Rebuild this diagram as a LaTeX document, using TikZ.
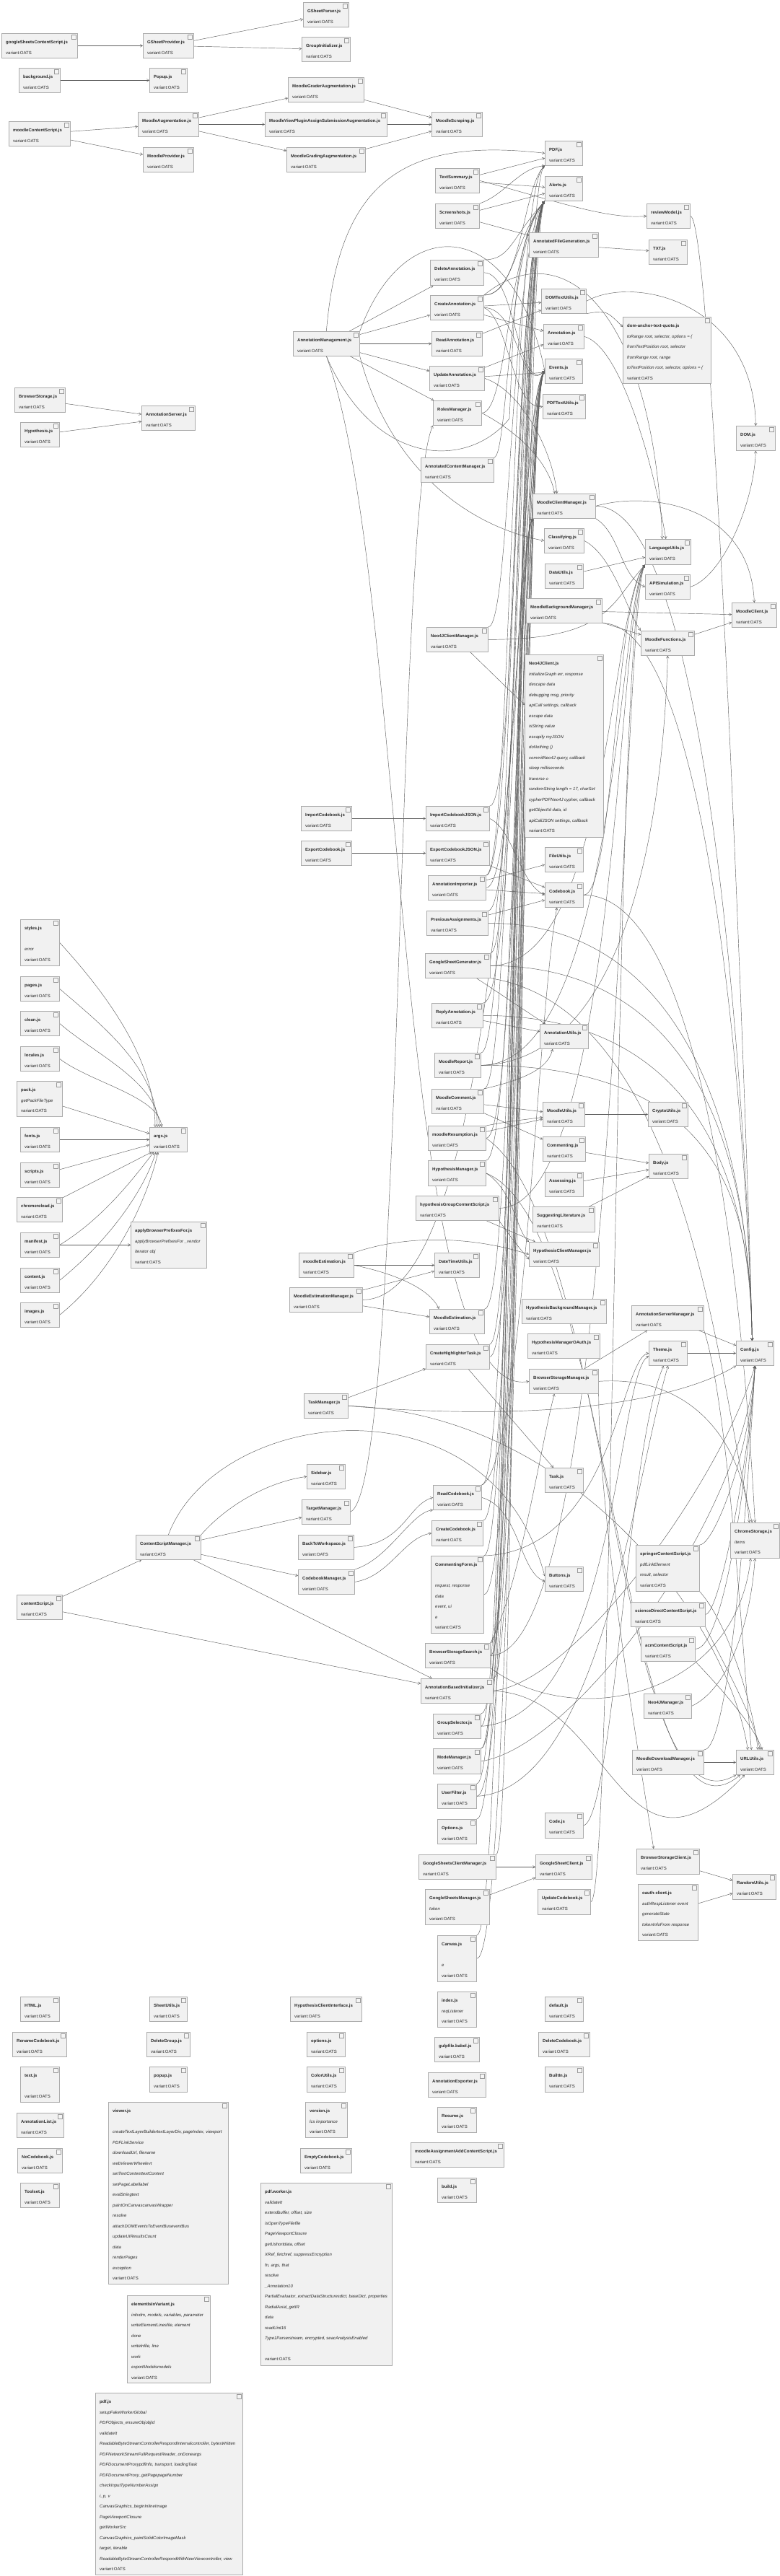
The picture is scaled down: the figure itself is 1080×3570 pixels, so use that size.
\documentclass[tikz,border=0pt]{standalone}
\usepackage{fontspec}
\setmainfont{Liberation Sans}
\usetikzlibrary{arrows.meta,backgrounds}
\definecolor{boxfill}{HTML}{F1F1F1}
\definecolor{boxline}{HTML}{ABABAB}
\definecolor{edgec}{HTML}{5E5E5E}
\definecolor{txtc}{HTML}{2A2A2A}
\tikzset{
  cbox/.style={anchor=north west,draw=boxline,fill=boxfill,line width=0.7pt,inner sep=0pt},
  ctext/.style={anchor=north west,inner sep=0pt,align=left,text=txtc,font=\fontsize{6}{14.5}\selectfont},
  cicon/.style={draw=gray!80,fill=white!96!black,line width=0.4pt},
  e/.style={draw=edgec,line width=0.45pt,-{Straight Barb[length=3.2pt,width=3.8pt]}}
}
\newcommand\V{variant:OATS}
\newcommand\T[1]{\rule{0pt}{4.7pt}\textbf{#1}}
\newcommand\I[1]{\textit{#1}}
\newcommand\cb[6]{%
  \node[cbox,minimum width=#4pt,minimum height=#5pt] (#1) at (#2,#3) {};
  \node[ctext] (#1-t) at ([xshift=6pt,yshift=-10pt]#1.north west) {#6};
  \draw[cicon] ([xshift=-8.5pt,yshift=-2.5pt]#1.north east) rectangle ++(6pt,-6pt);
}
\newcommand\toAl[2]{\draw[e] (#1) .. controls (#1 -| #2) and (#2 |- alc) .. (alerts.south west);}
\newcommand\toEv[2]{\draw[e] (#1) .. controls (#1 -| #2) and (#2 |- evc) .. (events.west);}
\newcommand\toPd[2]{\draw[e] (#1) .. controls (#1 -| #2) and (#2 |- pdc) .. (pdfU.south west);}
\newcommand\toMc[2]{\draw[e] (#1) .. controls (#1 -| #2) and (#2 |- mcc) .. (mcm.south west);}
\newcommand\toLg[2]{\draw[e] (#1) .. controls (#1 -| #2) and (#2 |- lgc) .. (langu.south west);}
\newcommand\toCn[2]{\draw[e] (#1) .. controls (#1 -| #2) and (cnc) .. ([xshift=-4pt]config.north);}
\newcommand\toCs[2]{\draw[e] (#1) .. controls (#1 -| #2) and (csc) .. (config.south);}
\begin{document}
\begin{tikzpicture}[x=1pt,y=-1pt]
\useasboundingbox (0,0) rectangle (1080,3570);
% corridor coordinates
\coordinate (k1) at (704,0); \coordinate (k2) at (708,0); \coordinate (k3) at (712,0);
\coordinate (k4) at (716,0); \coordinate (k5) at (720,0); \coordinate (k6) at (724,0);
\coordinate (j1) at (846,0); \coordinate (j2) at (851,0); \coordinate (j3) at (856,0); \coordinate (j4) at (861,0);
\coordinate (r1) at (990,0); \coordinate (r2) at (998,0); \coordinate (r3) at (1006,0); \coordinate (r4) at (1014,0); \coordinate (r5) at (1022,0);
\coordinate (alc) at (0,330); \coordinate (evc) at (0,548); \coordinate (pdc) at (0,258);
\coordinate (mcc) at (0,765); \coordinate (lgc) at (0,835);
\coordinate (cnc) at (1040,1700); \coordinate (csc) at (1040,2010);
% ---------------- nodes
\cb{gscs}{2}{46}{105}{34}{\T{googleSheetsContentScript.js}\\\V}
\cb{gsp}{198}{46}{70}{34}{\T{GSheetProvider.js}\\\V}
\cb{gspar}{420}{3}{63}{34}{\T{GSheetParser.js}\\\V}
\cb{ginit}{418}{51}{67}{34}{\T{GroupInitializer.js}\\\V}
\cb{bg}{26}{94}{57}{34}{\T{background.js}\\\V}
\cb{popupU}{207}{94}{52}{34}{\T{Popup.js}\\\V}
\cb{mgrader}{399}{107}{105}{34}{\T{MoodleGraderAugmentation.js}\\\V}
\cb{mcs}{12}{168}{85}{34}{\T{moodleContentScript.js}\\\V}
\cb{maug}{191}{155}{84}{34}{\T{MoodleAugmentation.js}\\\V}
\cb{mview}{367}{155}{169}{34}{\T{MoodleViewPluginAssignSubmissionAugmentation.js}\\\V}
\cb{mscrap}{598}{155}{70}{34}{\T{MoodleScraping.js}\\\V}
\cb{mprov}{198}{204}{70}{34}{\T{MoodleProvider.js}\\\V}
\cb{mgrading}{397}{204}{109}{34}{\T{MoodleGradingAugmentation.js}\\\V}
\cb{pdfU}{755}{195}{52}{34}{\T{PDF.js}\\\V}
\cb{tsum}{603}{233}{61}{34}{\T{TextSummary.js}\\\V}
\cb{alerts}{755}{244}{52}{34}{\T{Alerts.js}\\\V}
\cb{shots}{603}{282}{61}{34}{\T{Screenshots.js}\\\V}
\cb{review}{896}{282}{60}{34}{\T{reviewModel.js}\\\V}
\cb{afg}{733}{322}{96}{34}{\T{AnnotatedFileGeneration.js}\\\V}
\cb{txt}{899}{332}{53}{34}{\T{TXT.js}\\\V}
\cb{delA}{596}{360}{74}{35}{\T{DeleteAnnotation.js}\\\V}
\cb{creA}{596}{409}{74}{34}{\T{CreateAnnotation.js}\\\V}
\cb{domtu}{750}{400}{62}{34}{\T{DOMTextUtils.js}\\\V}
\cb{dat}{863}{439}{122}{92}{\T{dom-anchor-text-quote.js}\\\I{toRange root, selector, options = \{}\\\I{fromTextPosition root, selector}\\\I{fromRange root, range}\\\I{toTextPosition root, selector, options = \{}\\\V}
\cb{amgmt}{406}{459}{92}{34}{\T{AnnotationManagement.js}\\\V}
\cb{readA}{598}{459}{70}{34}{\T{ReadAnnotation.js}\\\V}
\cb{annot}{753}{449}{56}{34}{\T{Annotation.js}\\\V}
\cb{updA}{595}{507}{76}{34}{\T{UpdateAnnotation.js}\\\V}
\cb{events}{755}{497}{52}{34}{\T{Events.js}\\\V}
\cb{pdftu}{752}{546}{59}{34}{\T{PDFTextUtils.js}\\\V}
\cb{roles}{600}{555}{67}{34}{\T{RolesManager.js}\\\V}
\cb{bstor}{20}{537}{70}{34}{\T{BrowserStorage.js}\\\V}
\cb{aserv}{196}{562}{74}{34}{\T{AnnotationServer.js}\\\V}
\cb{hyp}{28}{585}{54}{34}{\T{Hypothesis.js}\\\V}
\cb{domU}{1020}{590}{54}{34}{\T{DOM.js}\\\V}
\cb{acm}{583}{634}{101}{34}{\T{AnnotatedContentManager.js}\\\V}
\cb{mcm}{738}{684}{87}{34}{\T{MoodleClientManager.js}\\\V}
\cb{classif}{754}{732}{55}{34}{\T{Classifying.js}\\\V}
\cb{langu}{894}{747}{63}{35}{\T{LanguageUtils.js}\\\V}
\cb{datau}{755}{781}{53}{34}{\T{DataUtils.js}\\\V}
\cb{apisim}{894}{796}{62}{34}{\T{APISimulation.js}\\\V}
\cb{mbm}{729}{829}{105}{34}{\T{MoodleBackgroundManager.js}\\\V}
\cb{mclient}{1014}{835}{62}{34}{\T{MoodleClient.js}\\\V}
\cb{mfunc}{888}{874}{74}{34}{\T{MoodleFunctions.js}\\\V}
\cb{n4cm}{591}{869}{85}{34}{\T{Neo4JClientManager.js}\\\V}
\cb{n4c}{727}{907}{109}{253}{\T{Neo4JClient.js}\\\I{initializeGraph err, response}\\\I{descape data}\\\I{debugging msg, priority}\\\I{apiCall settings, callback}\\\I{escape data}\\\I{isString value}\\\I{escapify myJSON}\\\I{doNothing ()}\\\I{commitNeo4J query, callback}\\\I{sleep milliseconds}\\\I{traverse o}\\\I{randomString length = 17, charSet}\\\I{cypherPDFNeo4J cypher, callback}\\\I{getObjectId data, id}\\\I{apiCallJSON settings, callback}\\\V}
\cb{impcb}{417}{1117}{70}{34}{\T{ImportCodebook.js}\\\V}
\cb{impcbj}{590}{1117}{88}{34}{\T{ImportCodebookJSON.js}\\\V}
\cb{expcb}{417}{1165}{70}{34}{\T{ExportCodebook.js}\\\V}
\cb{expcbj}{590}{1165}{88}{34}{\T{ExportCodebookJSON.js}\\\V}
\cb{fileu}{755}{1174}{53}{34}{\T{FileUtils.js}\\\V}
\cb{aimp}{593}{1213}{80}{34}{\T{AnnotationImporter.js}\\\V}
\cb{codebook}{755}{1223}{53}{34}{\T{Codebook.js}\\\V}
\cb{prevass}{591}{1262}{85}{34}{\T{PreviousAssignments.js}\\\V}
\cb{styles}{28}{1274}{54}{64}{\T{styles.js}\\~\\\I{error}\\\V}
\cb{gsg}{589}{1321}{90}{34}{\T{GoogleSheetGenerator.js}\\\V}
\cb{pages}{28}{1353}{54}{34}{\T{pages.js}\\\V}
\cb{clean}{28}{1401}{54}{34}{\T{clean.js}\\\V}
\cb{reply}{598}{1390}{71}{34}{\T{ReplyAnnotation.js}\\\V}
\cb{annu}{748}{1419}{67}{34}{\T{AnnotationUtils.js}\\\V}
\cb{locales}{28}{1450}{54}{34}{\T{locales.js}\\\V}
\cb{mreport}{602}{1459}{64}{34}{\T{MoodleReport.js}\\\V}
\cb{pack}{23}{1498}{63}{49}{\T{pack.js}\\\I{getPackFileType}\\\V}
\cb{mcomment}{598}{1509}{72}{34}{\T{MoodleComment.js}\\\V}
\cb{mutils}{752}{1527}{58}{34}{\T{MoodleUtils.js}\\\V}
\cb{crypto}{898}{1527}{55}{34}{\T{CryptoUtils.js}\\\V}
\cb{fonts}{28}{1562}{54}{34}{\T{fonts.js}\\\V}
\cb{args}{207}{1562}{52}{34}{\T{args.js}\\\V}
\cb{mresump}{593}{1560}{80}{34}{\T{moodleResumption.js}\\\V}
\cb{commenting}{752}{1575}{59}{34}{\T{Commenting.js}\\\V}
\cb{body}{899}{1599}{54}{34}{\T{Body.js}\\\V}
\cb{scripts}{28}{1611}{54}{34}{\T{scripts.js}\\\V}
\cb{hmgr}{593}{1608}{80}{35}{\T{HypothesisManager.js}\\\V}
\cb{assess}{755}{1624}{53}{34}{\T{Assessing.js}\\\V}
\cb{chromer}{23}{1659}{63}{34}{\T{chromereload.js}\\\V}
\cb{hgcs}{576}{1657}{115}{34}{\T{hypothesisGroupContentScript.js}\\\V}
\cb{suglit}{738}{1672}{86}{35}{\T{SuggestingLiterature.js}\\\V}
\cb{manifest}{28}{1708}{54}{34}{\T{manifest.js}\\\V}
\cb{abpf}{181}{1693}{105}{64}{\T{applyBrowserPrefixesFor.js}\\\I{applyBrowserPrefixesFor \_vendor}\\\I{iterator obj}\\\V}
\cb{hcm}{733}{1721}{97}{34}{\T{HypothesisClientManager.js}\\\V}
\cb{mest}{414}{1736}{76}{34}{\T{moodleEstimation.js}\\\V}
\cb{dtu}{602}{1736}{62}{34}{\T{DateTimeUtils.js}\\\V}
\cb{content}{28}{1757}{54}{34}{\T{content.js}\\\V}
\cb{mem}{401}{1784}{101}{34}{\T{MoodleEstimationManager.js}\\\V}
\cb{images}{28}{1805}{54}{34}{\T{images.js}\\\V}
\cb{mestU}{595}{1814}{76}{34}{\T{MoodleEstimation.js}\\\V}
\cb{hbm}{723}{1800}{117}{34}{\T{HypothesisBackgroundManager.js}\\\V}
\cb{asm}{875}{1809}{100}{34}{\T{AnnotationServerManager.js}\\\V}
\cb{hmo}{731}{1848}{100}{34}{\T{HypothesisManagerOAuth.js}\\\V}
\cb{cht}{590}{1863}{88}{34}{\T{CreateHighlighterTask.js}\\\V}
\cb{theme}{899}{1858}{53}{34}{\T{Theme.js}\\\V}
\cb{config}{1020}{1858}{52}{34}{\T{Config.js}\\\V}
\cb{bsm}{733}{1897}{96}{34}{\T{BrowserStorageManager.js}\\\V}
\cb{taskm}{421}{1931}{61}{34}{\T{TaskManager.js}\\\V}
\cb{sidebar}{425}{2029}{53}{34}{\T{Sidebar.js}\\\V}
\cb{task}{755}{2034}{53}{34}{\T{Task.js}\\\V}
\cb{readcb}{600}{2058}{67}{34}{\T{ReadCodebook.js}\\\V}
\cb{targetm}{418}{2078}{67}{34}{\T{TargetManager.js}\\\V}
\cb{chromes}{1012}{2110}{68}{49}{\T{ChromeStorage.js}\\\I{items}\\\V}
\cb{csm}{188}{2127}{90}{34}{\T{ContentScriptManager.js}\\\V}
\cb{btw}{413}{2127}{77}{34}{\T{BackToWorkspace.js}\\\V}
\cb{createcb}{598}{2107}{71}{35}{\T{CreateCodebook.js}\\\V}
\cb{cbm}{413}{2175}{78}{34}{\T{CodebookManager.js}\\\V}
\cb{springer}{881}{2141}{88}{64}{\T{springerContentScript.js}\\\I{pdfLinkElement}\\\I{result, selector}\\\V}
\cb{cform}{597}{2156}{73}{107}{\T{CommentingForm.js}\\~\\\I{request, response}\\\I{data}\\\I{event, ui}\\\I{e}\\\V}
\cb{buttons}{755}{2171}{53}{34}{\T{Buttons.js}\\\V}
\cb{cscript}{23}{2210}{63}{34}{\T{contentScript.js}\\\V}
\cb{scid}{874}{2220}{103}{34}{\T{scienceDirectContentScript.js}\\\V}
\cb{acmcs}{888}{2268}{75}{34}{\T{acmContentScript.js}\\\V}
\cb{bss}{589}{2277}{90}{34}{\T{BrowserStorageSearch.js}\\\V}
\cb{abi}{583}{2326}{100}{34}{\T{AnnotationBasedInitializer.js}\\\V}
\cb{n4m}{892}{2347}{66}{34}{\T{Neo4JManager.js}\\\V}
\cb{gsel}{600}{2375}{66}{34}{\T{GroupSelector.js}\\\V}
\cb{modem}{600}{2423}{66}{35}{\T{ModeManager.js}\\\V}
\cb{mdm}{876}{2425}{99}{34}{\T{MoodleDownloadManager.js}\\\V}
\cb{urlu}{1020}{2425}{52}{34}{\T{URLUtils.js}\\\V}
\cb{userf}{606}{2472}{54}{34}{\T{UserFilter.js}\\\V}
\cb{options}{606}{2521}{54}{34}{\T{Options.js}\\\V}
\cb{code}{755}{2512}{53}{35}{\T{Code.js}\\\V}
\cb{bsc}{882}{2562}{87}{35}{\T{BrowserStorageClient.js}\\\V}
\cb{gscm}{580}{2570}{107}{34}{\T{GoogleSheetsClientManager.js}\\\V}
\cb{gsc}{742}{2570}{78}{34}{\T{GoogleSheetClient.js}\\\V}
\cb{randu}{1015}{2597}{60}{35}{\T{RandomUtils.js}\\\V}
\cb{gsm}{589}{2618}{89}{49}{\T{GoogleSheetsManager.js}\\\I{token}\\\V}
\cb{updcb}{745}{2618}{73}{35}{\T{UpdateCodebook.js}\\\V}
\cb{oauth}{884}{2611}{83}{78}{\T{oauth-client.js}\\\I{authRespListener event}\\\I{generateState}\\\I{tokenInfoFrom response}\\\V}
\cb{canvas}{606}{2682}{54}{64}{\T{Canvas.js}\\~\\\I{e}\\\V}
\cb{html}{28}{2767}{54}{34}{\T{HTML.js}\\\V}
\cb{sheetu}{207}{2767}{52}{34}{\T{SheetUtils.js}\\\V}
\cb{hci}{402}{2767}{99}{34}{\T{HypothesisClientInterface.js}\\\V}
\cb{index}{606}{2760}{54}{49}{\T{index.js}\\\I{reqListener}\\\V}
\cb{dflt}{755}{2767}{53}{34}{\T{default.js}\\\V}
\cb{renamecb}{17}{2816}{75}{34}{\T{RenameCodebook.js}\\\V}
\cb{delgroup}{203}{2816}{60}{34}{\T{DeleteGroup.js}\\\V}
\cb{optionsl}{425}{2816}{53}{34}{\T{options.js}\\\V}
\cb{gulp}{602}{2823}{62}{34}{\T{gulpfile.babel.js}\\\V}
\cb{delcb}{746}{2816}{71}{34}{\T{DeleteCodebook.js}\\\V}
\cb{textl}{28}{2864}{54}{49}{\T{text.js}\\~\\\V}
\cb{popupl}{207}{2864}{52}{35}{\T{popup.js}\\\V}
\cb{coloru}{425}{2864}{53}{35}{\T{ColorUtils.js}\\\V}
\cb{aexp}{593}{2872}{80}{34}{\T{AnnotationExporter.js}\\\V}
\cb{builtin}{755}{2864}{53}{35}{\T{BuiltIn.js}\\\V}
\cb{viewer}{150}{2913}{166}{252}{\T{viewer.js}\\~\\\I{createTextLayerBuildertextLayerDiv, pageIndex, viewport}\\\I{PDFLinkService}\\\I{downloadUrl, filename}\\\I{webViewerWheelevt}\\\I{setTextContenttextContent}\\\I{setPageLabellabel}\\\I{evalStringtext}\\\I{paintOnCanvascanvasWrapper}\\\I{resolve}\\\I{attachDOMEventsToEventBuseventBus}\\\I{updateUIResultsCount}\\\I{data}\\\I{renderPages}\\\I{exception}\\\V}
\cb{version}{423}{2913}{58}{49}{\T{version.js}\\\I{lcs importance}\\\V}
\cb{resume}{606}{2920}{54}{35}{\T{Resume.js}\\\V}
\cb{alist}{23}{2928}{65}{34}{\T{AnnotationList.js}\\\V}
\cb{nocb}{24}{2977}{62}{34}{\T{NoCodebook.js}\\\V}
\cb{emptycb}{416}{2977}{71}{34}{\T{EmptyCodebook.js}\\\V}
\cb{maacs}{569}{2969}{129}{34}{\T{moodleAssignmentAddContentScript.js}\\\V}
\cb{toolset}{28}{3025}{54}{34}{\T{Toolset.js}\\\V}
\cb{build}{606}{3018}{54}{34}{\T{build.js}\\\V}
\cb{pdfw}{361}{3025}{182}{253}{\T{pdf.worker.js}\\\I{validateIt}\\\I{extendbuffer, offset, size}\\\I{isOpenTypeFilefile}\\\I{PageViewportClosure}\\\I{getUshortdata, offset}\\\I{XRef\_fetchref, suppressEncryption}\\\I{fn, args, that}\\\I{resolve}\\\I{\_Annotation10}\\\I{PartialEvaluator\_extractDataStructuresdict, baseDict, properties}\\\I{RadialAxial\_getIR}\\\I{data}\\\I{readUint16}\\\I{Type1Parserstream, encrypted, seacAnalysisEnabled}\\~\\\V}
\cb{eiiv}{176}{3181}{115}{121}{\T{elementIsInVariant.js}\\\I{initvdm, models, variables, parameter}\\\I{writeElementLinesfile, element}\\\I{done}\\\I{writelnfile, line}\\\I{work}\\\I{exportModelsmodels}\\\V}
\cb{pdfjs}{132}{3316}{204}{252}{\T{pdf.js}\\\I{setupFakeWorkerGlobal}\\\I{PDFObjects\_ensureObjobjId}\\\I{validateIt}\\\I{ReadableByteStreamControllerRespondInternalcontroller, bytesWritten}\\\I{PDFNetworkStreamFullRequestReader\_onDoneargs}\\\I{PDFDocumentProxypdfInfo, transport, loadingTask}\\\I{PDFDocumentProxy\_getPagepageNumber}\\\I{checkInputTypeNumberAssign}\\\I{i, p, v}\\\I{CanvasGraphics\_beginInlineImage}\\\I{PageViewportClosure}\\\I{getWorkerSrc}\\\I{CanvasGraphics\_paintSolidColorImageMask}\\\I{target, iterable}\\\I{ReadableByteStreamControllerRespondWithNewViewcontroller, view}\\\V}
% ---------------- edges
\begin{scope}[on background layer]
\fill[white] (0,0) rectangle (1080,3570);
% top clusters
\draw[e] (gscs) -- (gsp);
\draw[e] (gsp) -- (gspar);
\draw[e] (gsp) -- (ginit);
\draw[e] (bg) -- (popupU);
\draw[e] (mcs) -- (maug);
\draw[e] (mcs) -- (mprov);
\draw[e] (maug) -- (mgrader);
\draw[e] (maug) -- (mview);
\draw[e] (maug) -- (mgrading);
\draw[e] (mgrader) -- (mscrap);
\draw[e] (mview) -- (mscrap);
\draw[e] (mgrading) -- (mscrap);
\draw[e] (tsum) -- (pdfU);
\draw[e] (tsum) -- (alerts);
\draw[e] (tsum.east) .. controls (760,275) and (840,305) .. (review.west);
\draw[e] (shots.north east) .. controls (700,270) and (720,232) .. (pdfU.south west);
\draw[e] (shots) -- (alerts);
\draw[e] (shots) -- (afg);
\draw[e] (afg) -- (txt);
\draw[e] (bstor) -- (aserv);
\draw[e] (hyp) -- (aserv);
% annotation management
\draw[e] (amgmt) -- (delA);
\draw[e] (amgmt) -- (creA);
\draw[e] (amgmt) -- (readA);
\draw[e] (amgmt) -- (updA);
\draw[e] (amgmt) -- (roles);
\draw[e] (amgmt.north) .. controls (470,250) and (560,190) .. (pdfU.west);
\draw[e] (amgmt.north east) .. controls (560,290) and (712,300) .. (events.west);
\draw[e] (amgmt.south) .. controls (520,650) and (650,650) .. (706,580) .. controls (712,450) and (712,330) .. (alerts.south west);
\draw[e] (amgmt.south east) .. controls (540,650) and (650,730) .. (classif.west);
\draw[e] (amgmt.south) .. controls (565,800) and (545,1950) .. (bsm.west);
\draw[e] (targetm.east) .. controls (560,2060) and (548,700) .. (roles.south west);
\draw[e] (creA) -- (domtu);
\draw[e] (creA) -- (annot);
\draw[e] (readA) -- (domtu);
\draw[e] (updA) -- (annot);
\draw[e] (updA) -- (events);
\draw[e] (domtu.south east) .. controls (840,430) .. ([yshift=-14pt]dat.north west);
\draw[e] (domtu.east) .. controls (880,380) and (1045,420) .. (domU.north);
\draw[e] (creA.north east) .. controls (780,320) and (905,430) .. ([xshift=-8pt]langu.north);
\draw[e] (annot.east) .. controls (860,480) and (905,640) .. ([xshift=-3pt]langu.north);
\draw[e] (creA.east) .. controls (705,440) and (710,570) .. (pdftu.west);
\draw[e] (roles.east) .. controls (720,600) and (760,640) .. ([xshift=-13pt]mcm.north);
\draw[e] (updA.east) .. controls (720,540) and (765,620) .. ([xshift=-10pt]mcm.north);
% bundle to Alerts
\toAl{delA.north east}{k2}
\toAl{creA.north east}{k3}
\toAl{roles.east}{k1}
\toAl{acm.north east}{k1}
\toAl{n4cm.north east}{k2}
\toAl{impcbj.north east}{k4}
\toAl{aimp.north east}{k3}
\toAl{prevass.north east}{k5}
\toAl{gsg.north east}{k4}
\toAl{mreport.north east}{k2}
\toAl{mcomment.north east}{k3}
\toAl{hmgr.north east}{k5}
\toAl{cht.north east}{k5}
\toAl{cform.north east}{k4}
\toAl{bss.north east}{k6}
\toAl{userf.north east}{k3}
\toAl{gscm.north east}{k4}
\toAl{canvas.north east}{k2}
% bundle to Events
\toEv{delA.east}{k4}
\toEv{creA.east}{k5}
\toEv{aimp.east}{k5}
\toEv{reply.north east}{k4}
\toEv{cform.east}{k6}
\toEv{bss.east}{k5}
\toEv{gsel.north east}{k5}
\toEv{modem.north east}{k4}
\toEv{userf.east}{k6}
\toEv{options.north east}{k3}
\toEv{abi.north east}{k6}
\toEv{canvas.east}{k5}
\toEv{createcb.north east}{k4}
\toEv{readcb.north east}{k3}
\toEv{cht.east}{k6}
% bundle to PDF
\toPd{creA.north east}{k6}
\toPd{aimp.north east}{k2}
\toPd{modem.north east}{k3}
% bundle to MoodleClientManager
\toMc{mresump.east}{k4}
\toMc{mem.east}{k2}
\toMc{mestU.north east}{k3}
\toMc{gsel.east}{k1}
% moodle client cluster
\draw[e] (mcm.east) .. controls (900,680) and (1040,700) .. (mclient.north);
\draw[e] (mcm.south east) .. controls (860,740) and (860,800) .. (apisim.west);
\draw[e] (classif.east) .. controls (850,770) and (870,850) .. (mfunc.north west);
\draw[e] (datau) -- (langu);
\draw[e] (apisim.east) .. controls (1000,800) and (1045,700) .. (domU.south);
\draw[e] (mbm) -- (mclient);
\draw[e] (mbm) -- (mfunc);
\draw[e] (mfunc) -- (mclient);
\draw[e] (n4cm) -- ([yshift=-70pt]n4c.north west);
% LanguageUtils corridor
\toLg{codebook.east}{j2}
\toLg{gsg.east}{j1}
\toLg{mreport.east}{j3}
\toLg{updcb.east}{j2}
\toLg{bss.east}{j4}
\toLg{n4cm.east}{j1}
\toLg{hgcs.east}{j3}
% codebook cluster
\draw[e] (impcb) -- (impcbj);
\draw[e] (expcb) -- (expcbj);
\draw[e] (expcbj) -- (codebook);
\draw[e] (impcbj.east) .. controls (712,1150) and (720,1225) .. (codebook.west);
\draw[e] (aimp) -- (fileu);
\draw[e] (aimp) -- (codebook);
\draw[e] (prevass) -- (codebook);
\draw[e] (gsg) -- (annu);
\draw[e] (reply) -- (annu);
\draw[e] (mcomment.north east) .. controls (730,1495) and (760,1480) .. ([xshift=-16pt]annu.south);
\draw[e] (mreport.east) .. controls (880,1470) and (920,1100) .. (mfunc.south);
\draw[e] (readcb.north east) .. controls (725,2030) and (745,1400) .. ([xshift=-10pt]codebook.south);
% moodle utils cluster
\draw[e] (mcomment) -- (mutils);
\draw[e] (mcomment) -- (commenting);
\draw[e] (mresump) -- (mutils);
\draw[e] (mresump.north east) .. controls (700,1555) .. ([yshift=-4pt]mutils.west);
\draw[e] (mutils) -- (crypto);
\draw[e] (commenting) -- (body);
\draw[e] (assess) -- (body);
\draw[e] (suglit) -- (body);
% hypothesis cluster
\draw[e] (hmgr.east) .. controls (712,1650) and (715,1705) .. (hcm.north west);
\draw[e] (hgcs) -- (hcm);
\draw[e] (hgcs.south east) .. controls (712,1720) .. ([yshift=-7pt]hcm.west);
\draw[e] (mest) -- (dtu);
\draw[e] (mest.north east) .. controls (560,1712) and (650,1712) .. (hcm.west);
\draw[e] (mest.east) .. controls (570,1770) and (600,1795) .. ([xshift=-25pt]mestU.north);
\draw[e] (mem) -- (dtu);
\draw[e] (mem) -- (mestU);
% tasks, storage
\draw[e] (cht) -- (task);
\draw[e] (taskm) -- (cht);
\draw[e] (bsm) -- (asm);
\draw[e] (bsm.south east) .. controls (830,2100) and (880,2400) .. ([xshift=-20pt]bsc.north);
\draw[e] (bss.north east) .. controls (720,2200) and (750,2000) .. ([xshift=-13pt]bsm.south);
\draw[e] (theme) -- (config);
\draw[e] (asm) -- (config);
% Theme
\draw[e] (code.east) .. controls (850,2520) and (870,2000) .. ([xshift=-6pt]theme.south);
\draw[e] (userf.east) .. controls (830,2480) and (880,2050) .. (theme.south);
\draw[e] (cform.north east) .. controls (850,2150) and (860,1880) .. (theme.west);
\draw[e] (gsel.east) .. controls (855,2380) and (855,1900) .. ([yshift=-4pt]theme.west);
% URLUtils
\draw[e] (mresump.east) .. controls (850,1700) and (850,2560) .. (urlu.south west);
\draw[e] (hmgr.east) .. controls (855,1700) and (860,2600) .. ([xshift=6pt]urlu.south west);
\draw[e] (abi.east) .. controls (850,2350) and (860,2640) .. ([xshift=12pt]urlu.south west);
\draw[e] (taskm.east) .. controls (800,1960) and (1010,2250) .. ([xshift=-10pt]urlu.north);
\draw[e] (asm.south east) .. controls (1010,1950) and (1030,2300) .. ([xshift=-5pt]urlu.north);
\draw[e] (springer.south east) .. controls (1010,2250) and (1045,2370) .. ([xshift=4pt]urlu.north);
\draw[e] (scid.south east) .. controls (1000,2300) and (1045,2380) .. ([xshift=7pt]urlu.north);
\draw[e] (acmcs.south east) .. controls (990,2330) and (1045,2390) .. ([xshift=10pt]urlu.north);
\draw[e] (mdm) -- (urlu);
% Config from above
\toCn{review.east}{r1}
\toCn{mcm.east}{r2}
\toCn{prevass.east}{r3}
\toCn{gsg.east}{r4}
\toCn{reply.east}{r3}
\toCn{mreport.east}{r5}
\toCn{mbm.south east}{r2}
% Config from below
\toCs{springer.north east}{r1}
\toCs{scid.east}{r2}
\toCs{acmcs.east}{r3}
\toCs{mdm.north east}{r4}
\draw[e] (modem.east) .. controls (800,2420) and (1030,2100) .. (config.south);
\draw[e] (abi.east) .. controls (800,2330) and (1000,2050) .. (config.south);
\draw[e] (taskm.east) .. controls (800,1975) and (960,1930) .. (config.south west);
% ChromeStorage
\draw[e] (codebook.east) .. controls (990,1240) and (1035,1900) .. (chromes.north);
\draw[e] (bsm.east) .. controls (960,1905) and (1030,2000) .. ([xshift=-8pt]chromes.north);
\draw[e] (gsg.south east) .. controls (960,1400) and (1000,1950) .. ([xshift=-4pt]chromes.north);
\draw[e] (n4m.east) .. controls (1010,2340) and (1040,2250) .. (chromes.south);
\draw[e] (bss.south east) .. controls (800,2400) and (1020,2350) .. ([xshift=-6pt]chromes.south);
% content script cluster
\draw[e] (cscript) -- (csm);
\draw[e] (cscript) -- (abi);
\draw[e] (csm) -- (targetm);
\draw[e] (csm) -- (cbm);
\draw[e] (csm) -- (abi);
\draw[e] (csm.north east) .. controls (320,2080) and (380,2052) .. (sidebar.west);
\draw[e] (csm.north) .. controls (300,1950) and (680,1900) .. ([yshift=4pt]buttons.west);
\draw[e] (btw.east) .. controls (560,2140) and (565,2085) .. (readcb.west);
\draw[e] (cbm.east) .. controls (540,2185) and (560,2130) .. (createcb.west);
\draw[e] (cbm.north east) .. controls (540,2160) and (570,2095) .. (readcb.south west);
\draw[e] (readcb.east) .. controls (720,2090) and (720,2180) .. ([yshift=-3pt]buttons.west);
\draw[e] (gscm) -- (gsc);
\draw[e] (gsm) -- (gsc);
\draw[e] (bsc) -- (randu);
\draw[e] (oauth) -- (randu);
% args cluster
\draw[e] (styles.east) .. controls (150,1380) and (215,1470) .. ([xshift=8pt]args.north west);
\draw[e] (pages.east) .. controls (140,1420) and (218,1480) .. ([xshift=11pt]args.north west);
\draw[e] (clean.east) .. controls (130,1460) and (220,1500) .. ([xshift=14pt]args.north west);
\draw[e] (locales.east) .. controls (125,1500) and (222,1520) .. ([xshift=17pt]args.north west);
\draw[e] (pack) -- (args);
\draw[e] (fonts) -- (args);
\draw[e] (scripts) -- (args);
\draw[e] (chromer) -- ([xshift=3pt]args.south west);
\draw[e] (manifest.east) .. controls (140,1690) and (180,1640) .. ([xshift=6pt]args.south west);
\draw[e] (content.east) .. controls (150,1720) and (200,1650) .. ([xshift=9pt]args.south west);
\draw[e] (images.east) .. controls (160,1760) and (205,1660) .. ([xshift=12pt]args.south west);
\draw[e] (manifest) -- (abpf);
\end{scope}
\end{tikzpicture}
\end{document}
